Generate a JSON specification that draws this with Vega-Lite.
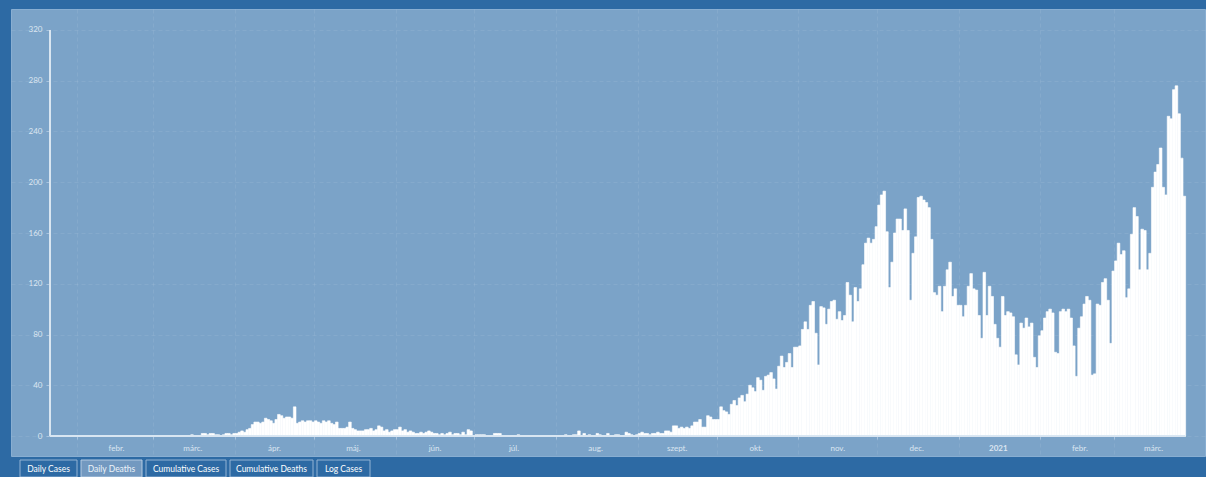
{
"$schema": "https://vega.github.io/schema/vega-lite/v6.json",
"background": "#2d6aa4",
"padding": {"left": 10, "top": 8, "right": 2, "bottom": 3},
"config": {"view": {"stroke": null}, "font": "Lato", "concat": {"spacing": 2}},
"datasets": {
"tabs": [{"tab":"Daily Cases"},{"tab":"Daily Deaths"},{"tab":"Cumulative Cases"},{"tab":"Cumulative Deaths"},{"tab":"Log Cases"}],
"deaths": [
{"date":"2020-01-22","deaths":0},{"date":"2020-01-23","deaths":0},{"date":"2020-01-24","deaths":0},{"date":"2020-01-25","deaths":0},{"date":"2020-01-26","deaths":0},{"date":"2020-01-27","deaths":0},{"date":"2020-01-28","deaths":0},{"date":"2020-01-29","deaths":0},{"date":"2020-01-30","deaths":0},{"date":"2020-01-31","deaths":0},
{"date":"2020-02-01","deaths":0},{"date":"2020-02-02","deaths":0},{"date":"2020-02-03","deaths":0},{"date":"2020-02-04","deaths":0},{"date":"2020-02-05","deaths":0},{"date":"2020-02-06","deaths":0},{"date":"2020-02-07","deaths":0},{"date":"2020-02-08","deaths":0},{"date":"2020-02-09","deaths":0},{"date":"2020-02-10","deaths":0},{"date":"2020-02-11","deaths":0},{"date":"2020-02-12","deaths":0},{"date":"2020-02-13","deaths":0},{"date":"2020-02-14","deaths":0},{"date":"2020-02-15","deaths":0},{"date":"2020-02-16","deaths":0},{"date":"2020-02-17","deaths":0},{"date":"2020-02-18","deaths":0},{"date":"2020-02-19","deaths":0},{"date":"2020-02-20","deaths":0},{"date":"2020-02-21","deaths":0},{"date":"2020-02-22","deaths":0},{"date":"2020-02-23","deaths":0},{"date":"2020-02-24","deaths":0},{"date":"2020-02-25","deaths":0},{"date":"2020-02-26","deaths":0},{"date":"2020-02-27","deaths":0},{"date":"2020-02-28","deaths":0},{"date":"2020-02-29","deaths":0},
{"date":"2020-03-01","deaths":0},{"date":"2020-03-02","deaths":0},{"date":"2020-03-03","deaths":0},{"date":"2020-03-04","deaths":0},{"date":"2020-03-05","deaths":0},{"date":"2020-03-06","deaths":0},{"date":"2020-03-07","deaths":0},{"date":"2020-03-08","deaths":0},{"date":"2020-03-09","deaths":0},{"date":"2020-03-10","deaths":0},{"date":"2020-03-11","deaths":0},{"date":"2020-03-12","deaths":0},{"date":"2020-03-13","deaths":0},{"date":"2020-03-14","deaths":0},{"date":"2020-03-15","deaths":1},{"date":"2020-03-16","deaths":0},{"date":"2020-03-17","deaths":0},{"date":"2020-03-18","deaths":0},{"date":"2020-03-19","deaths":2},{"date":"2020-03-20","deaths":2},{"date":"2020-03-21","deaths":1},{"date":"2020-03-22","deaths":2},{"date":"2020-03-23","deaths":2},{"date":"2020-03-24","deaths":1},{"date":"2020-03-25","deaths":1},{"date":"2020-03-26","deaths":0},{"date":"2020-03-27","deaths":1},{"date":"2020-03-28","deaths":2},{"date":"2020-03-29","deaths":2},{"date":"2020-03-30","deaths":1},{"date":"2020-03-31","deaths":2},
{"date":"2020-04-01","deaths":2},{"date":"2020-04-02","deaths":3},{"date":"2020-04-03","deaths":4},{"date":"2020-04-04","deaths":3},{"date":"2020-04-05","deaths":5},{"date":"2020-04-06","deaths":6},{"date":"2020-04-07","deaths":9},{"date":"2020-04-08","deaths":11},{"date":"2020-04-09","deaths":11},{"date":"2020-04-10","deaths":10},{"date":"2020-04-11","deaths":11},{"date":"2020-04-12","deaths":14},{"date":"2020-04-13","deaths":13},{"date":"2020-04-14","deaths":12},{"date":"2020-04-15","deaths":10},{"date":"2020-04-16","deaths":13},{"date":"2020-04-17","deaths":17},{"date":"2020-04-18","deaths":16},{"date":"2020-04-19","deaths":14},{"date":"2020-04-20","deaths":15},{"date":"2020-04-21","deaths":15},{"date":"2020-04-22","deaths":14},{"date":"2020-04-23","deaths":23},{"date":"2020-04-24","deaths":10},{"date":"2020-04-25","deaths":11},{"date":"2020-04-26","deaths":12},{"date":"2020-04-27","deaths":11},{"date":"2020-04-28","deaths":12},{"date":"2020-04-29","deaths":12},{"date":"2020-04-30","deaths":11},
{"date":"2020-05-01","deaths":12},{"date":"2020-05-02","deaths":11},{"date":"2020-05-03","deaths":10},{"date":"2020-05-04","deaths":12},{"date":"2020-05-05","deaths":11},{"date":"2020-05-06","deaths":12},{"date":"2020-05-07","deaths":10},{"date":"2020-05-08","deaths":9},{"date":"2020-05-09","deaths":11},{"date":"2020-05-10","deaths":6},{"date":"2020-05-11","deaths":6},{"date":"2020-05-12","deaths":6},{"date":"2020-05-13","deaths":7},{"date":"2020-05-14","deaths":11},{"date":"2020-05-15","deaths":6},{"date":"2020-05-16","deaths":5},{"date":"2020-05-17","deaths":4},{"date":"2020-05-18","deaths":4},{"date":"2020-05-19","deaths":4},{"date":"2020-05-20","deaths":5},{"date":"2020-05-21","deaths":5},{"date":"2020-05-22","deaths":6},{"date":"2020-05-23","deaths":4},{"date":"2020-05-24","deaths":5},{"date":"2020-05-25","deaths":8},{"date":"2020-05-26","deaths":7},{"date":"2020-05-27","deaths":4},{"date":"2020-05-28","deaths":5},{"date":"2020-05-29","deaths":3},{"date":"2020-05-30","deaths":4},{"date":"2020-05-31","deaths":5},
{"date":"2020-06-01","deaths":5},{"date":"2020-06-02","deaths":7},{"date":"2020-06-03","deaths":4},{"date":"2020-06-04","deaths":5},{"date":"2020-06-05","deaths":3},{"date":"2020-06-06","deaths":4},{"date":"2020-06-07","deaths":3},{"date":"2020-06-08","deaths":2},{"date":"2020-06-09","deaths":2},{"date":"2020-06-10","deaths":3},{"date":"2020-06-11","deaths":2},{"date":"2020-06-12","deaths":3},{"date":"2020-06-13","deaths":4},{"date":"2020-06-14","deaths":3},{"date":"2020-06-15","deaths":2},{"date":"2020-06-16","deaths":2},{"date":"2020-06-17","deaths":1},{"date":"2020-06-18","deaths":2},{"date":"2020-06-19","deaths":1},{"date":"2020-06-20","deaths":2},{"date":"2020-06-21","deaths":3},{"date":"2020-06-22","deaths":1},{"date":"2020-06-23","deaths":2},{"date":"2020-06-24","deaths":2},{"date":"2020-06-25","deaths":1},{"date":"2020-06-26","deaths":3},{"date":"2020-06-27","deaths":1},{"date":"2020-06-28","deaths":5},{"date":"2020-06-29","deaths":4},{"date":"2020-06-30","deaths":0},
{"date":"2020-07-01","deaths":1},{"date":"2020-07-02","deaths":1},{"date":"2020-07-03","deaths":1},{"date":"2020-07-04","deaths":1},{"date":"2020-07-05","deaths":0},{"date":"2020-07-06","deaths":0},{"date":"2020-07-07","deaths":0},{"date":"2020-07-08","deaths":2},{"date":"2020-07-09","deaths":2},{"date":"2020-07-10","deaths":2},{"date":"2020-07-11","deaths":0},{"date":"2020-07-12","deaths":0},{"date":"2020-07-13","deaths":0},{"date":"2020-07-14","deaths":0},{"date":"2020-07-15","deaths":0},{"date":"2020-07-16","deaths":0},{"date":"2020-07-17","deaths":1},{"date":"2020-07-18","deaths":0},{"date":"2020-07-19","deaths":0},{"date":"2020-07-20","deaths":0},{"date":"2020-07-21","deaths":0},{"date":"2020-07-22","deaths":0},{"date":"2020-07-23","deaths":0},{"date":"2020-07-24","deaths":0},{"date":"2020-07-25","deaths":0},{"date":"2020-07-26","deaths":0},{"date":"2020-07-27","deaths":0},{"date":"2020-07-28","deaths":0},{"date":"2020-07-29","deaths":0},{"date":"2020-07-30","deaths":0},{"date":"2020-07-31","deaths":0},
{"date":"2020-08-01","deaths":0},{"date":"2020-08-02","deaths":0},{"date":"2020-08-03","deaths":0},{"date":"2020-08-04","deaths":1},{"date":"2020-08-05","deaths":0},{"date":"2020-08-06","deaths":0},{"date":"2020-08-07","deaths":1},{"date":"2020-08-08","deaths":1},{"date":"2020-08-09","deaths":4},{"date":"2020-08-10","deaths":0},{"date":"2020-08-11","deaths":2},{"date":"2020-08-12","deaths":0},{"date":"2020-08-13","deaths":1},{"date":"2020-08-14","deaths":0},{"date":"2020-08-15","deaths":0},{"date":"2020-08-16","deaths":2},{"date":"2020-08-17","deaths":1},{"date":"2020-08-18","deaths":0},{"date":"2020-08-19","deaths":0},{"date":"2020-08-20","deaths":2},{"date":"2020-08-21","deaths":0},{"date":"2020-08-22","deaths":0},{"date":"2020-08-23","deaths":1},{"date":"2020-08-24","deaths":1},{"date":"2020-08-25","deaths":0},{"date":"2020-08-26","deaths":0},{"date":"2020-08-27","deaths":3},{"date":"2020-08-28","deaths":2},{"date":"2020-08-29","deaths":1},{"date":"2020-08-30","deaths":0},{"date":"2020-08-31","deaths":1},
{"date":"2020-09-01","deaths":2},{"date":"2020-09-02","deaths":3},{"date":"2020-09-03","deaths":2},{"date":"2020-09-04","deaths":2},{"date":"2020-09-05","deaths":1},{"date":"2020-09-06","deaths":2},{"date":"2020-09-07","deaths":2},{"date":"2020-09-08","deaths":3},{"date":"2020-09-09","deaths":2},{"date":"2020-09-10","deaths":2},{"date":"2020-09-11","deaths":4},{"date":"2020-09-12","deaths":4},{"date":"2020-09-13","deaths":3},{"date":"2020-09-14","deaths":8},{"date":"2020-09-15","deaths":8},{"date":"2020-09-16","deaths":6},{"date":"2020-09-17","deaths":7},{"date":"2020-09-18","deaths":6},{"date":"2020-09-19","deaths":7},{"date":"2020-09-20","deaths":6},{"date":"2020-09-21","deaths":8},{"date":"2020-09-22","deaths":11},{"date":"2020-09-23","deaths":11},{"date":"2020-09-24","deaths":13},{"date":"2020-09-25","deaths":7},{"date":"2020-09-26","deaths":7},{"date":"2020-09-27","deaths":16},{"date":"2020-09-28","deaths":15},{"date":"2020-09-29","deaths":13},{"date":"2020-09-30","deaths":13},
{"date":"2020-10-01","deaths":13},{"date":"2020-10-02","deaths":23},{"date":"2020-10-03","deaths":20},{"date":"2020-10-04","deaths":19},{"date":"2020-10-05","deaths":17},{"date":"2020-10-06","deaths":25},{"date":"2020-10-07","deaths":28},{"date":"2020-10-08","deaths":24},{"date":"2020-10-09","deaths":30},{"date":"2020-10-10","deaths":32},{"date":"2020-10-11","deaths":27},{"date":"2020-10-12","deaths":33},{"date":"2020-10-13","deaths":40},{"date":"2020-10-14","deaths":38},{"date":"2020-10-15","deaths":35},{"date":"2020-10-16","deaths":46},{"date":"2020-10-17","deaths":44},{"date":"2020-10-18","deaths":36},{"date":"2020-10-19","deaths":47},{"date":"2020-10-20","deaths":48},{"date":"2020-10-21","deaths":50},{"date":"2020-10-22","deaths":45},{"date":"2020-10-23","deaths":37},{"date":"2020-10-24","deaths":55},{"date":"2020-10-25","deaths":63},{"date":"2020-10-26","deaths":54},{"date":"2020-10-27","deaths":58},{"date":"2020-10-28","deaths":65},{"date":"2020-10-29","deaths":54},{"date":"2020-10-30","deaths":70},{"date":"2020-10-31","deaths":70},
{"date":"2020-11-01","deaths":71},{"date":"2020-11-02","deaths":84},{"date":"2020-11-03","deaths":90},{"date":"2020-11-04","deaths":84},{"date":"2020-11-05","deaths":103},{"date":"2020-11-06","deaths":106},{"date":"2020-11-07","deaths":81},{"date":"2020-11-08","deaths":56},{"date":"2020-11-09","deaths":102},{"date":"2020-11-10","deaths":101},{"date":"2020-11-11","deaths":88},{"date":"2020-11-12","deaths":100},{"date":"2020-11-13","deaths":106},{"date":"2020-11-14","deaths":107},{"date":"2020-11-15","deaths":92},{"date":"2020-11-16","deaths":98},{"date":"2020-11-17","deaths":91},{"date":"2020-11-18","deaths":95},{"date":"2020-11-19","deaths":121},{"date":"2020-11-20","deaths":111},{"date":"2020-11-21","deaths":90},{"date":"2020-11-22","deaths":117},{"date":"2020-11-23","deaths":106},{"date":"2020-11-24","deaths":116},{"date":"2020-11-25","deaths":135},{"date":"2020-11-26","deaths":152},{"date":"2020-11-27","deaths":156},{"date":"2020-11-28","deaths":152},{"date":"2020-11-29","deaths":155},{"date":"2020-11-30","deaths":165},
{"date":"2020-12-01","deaths":182},{"date":"2020-12-02","deaths":190},{"date":"2020-12-03","deaths":193},{"date":"2020-12-04","deaths":161},{"date":"2020-12-05","deaths":117},{"date":"2020-12-06","deaths":137},{"date":"2020-12-07","deaths":160},{"date":"2020-12-08","deaths":171},{"date":"2020-12-09","deaths":171},{"date":"2020-12-10","deaths":162},{"date":"2020-12-11","deaths":179},{"date":"2020-12-12","deaths":162},{"date":"2020-12-13","deaths":107},{"date":"2020-12-14","deaths":144},{"date":"2020-12-15","deaths":157},{"date":"2020-12-16","deaths":188},{"date":"2020-12-17","deaths":189},{"date":"2020-12-18","deaths":186},{"date":"2020-12-19","deaths":184},{"date":"2020-12-20","deaths":180},{"date":"2020-12-21","deaths":155},{"date":"2020-12-22","deaths":113},{"date":"2020-12-23","deaths":111},{"date":"2020-12-24","deaths":118},{"date":"2020-12-25","deaths":98},{"date":"2020-12-26","deaths":118},{"date":"2020-12-27","deaths":131},{"date":"2020-12-28","deaths":137},{"date":"2020-12-29","deaths":110},{"date":"2020-12-30","deaths":116},{"date":"2020-12-31","deaths":103},
{"date":"2021-01-01","deaths":103},{"date":"2021-01-02","deaths":94},{"date":"2021-01-03","deaths":103},{"date":"2021-01-04","deaths":118},{"date":"2021-01-05","deaths":128},{"date":"2021-01-06","deaths":116},{"date":"2021-01-07","deaths":115},{"date":"2021-01-08","deaths":95},{"date":"2021-01-09","deaths":77},{"date":"2021-01-10","deaths":129},{"date":"2021-01-11","deaths":95},{"date":"2021-01-12","deaths":118},{"date":"2021-01-13","deaths":110},{"date":"2021-01-14","deaths":88},{"date":"2021-01-15","deaths":77},{"date":"2021-01-16","deaths":70},{"date":"2021-01-17","deaths":110},{"date":"2021-01-18","deaths":95},{"date":"2021-01-19","deaths":98},{"date":"2021-01-20","deaths":97},{"date":"2021-01-21","deaths":94},{"date":"2021-01-22","deaths":64},{"date":"2021-01-23","deaths":56},{"date":"2021-01-24","deaths":89},{"date":"2021-01-25","deaths":85},{"date":"2021-01-26","deaths":93},{"date":"2021-01-27","deaths":86},{"date":"2021-01-28","deaths":89},{"date":"2021-01-29","deaths":62},{"date":"2021-01-30","deaths":54},{"date":"2021-01-31","deaths":79},
{"date":"2021-02-01","deaths":83},{"date":"2021-02-02","deaths":93},{"date":"2021-02-03","deaths":98},{"date":"2021-02-04","deaths":100},{"date":"2021-02-05","deaths":97},{"date":"2021-02-06","deaths":66},{"date":"2021-02-07","deaths":65},{"date":"2021-02-08","deaths":98},{"date":"2021-02-09","deaths":100},{"date":"2021-02-10","deaths":98},{"date":"2021-02-11","deaths":100},{"date":"2021-02-12","deaths":93},{"date":"2021-02-13","deaths":71},{"date":"2021-02-14","deaths":47},{"date":"2021-02-15","deaths":85},{"date":"2021-02-16","deaths":94},{"date":"2021-02-17","deaths":104},{"date":"2021-02-18","deaths":110},{"date":"2021-02-19","deaths":107},{"date":"2021-02-20","deaths":48},{"date":"2021-02-21","deaths":49},{"date":"2021-02-22","deaths":104},{"date":"2021-02-23","deaths":103},{"date":"2021-02-24","deaths":121},{"date":"2021-02-25","deaths":124},{"date":"2021-02-26","deaths":107},{"date":"2021-02-27","deaths":73},{"date":"2021-02-28","deaths":130},
{"date":"2021-03-01","deaths":138},{"date":"2021-03-02","deaths":152},{"date":"2021-03-03","deaths":143},{"date":"2021-03-04","deaths":146},{"date":"2021-03-05","deaths":109},{"date":"2021-03-06","deaths":116},{"date":"2021-03-07","deaths":159},{"date":"2021-03-08","deaths":180},{"date":"2021-03-09","deaths":173},{"date":"2021-03-10","deaths":131},{"date":"2021-03-11","deaths":163},{"date":"2021-03-12","deaths":162},{"date":"2021-03-13","deaths":131},{"date":"2021-03-14","deaths":144},{"date":"2021-03-15","deaths":196},{"date":"2021-03-16","deaths":208},{"date":"2021-03-17","deaths":214},{"date":"2021-03-18","deaths":227},{"date":"2021-03-19","deaths":196},{"date":"2021-03-20","deaths":190},{"date":"2021-03-21","deaths":252},{"date":"2021-03-22","deaths":250},{"date":"2021-03-23","deaths":273},{"date":"2021-03-24","deaths":276},{"date":"2021-03-25","deaths":254},{"date":"2021-03-26","deaths":219},{"date":"2021-03-27","deaths":189}
]
},
"vconcat": [
{
"width": 1194, "height": 447,
"view": {"fill": "#7ba3c8", "stroke": "#88aed2", "strokeWidth": 1},
"data": {"name": "deaths"},
"layer": [
{
"mark": {"type": "bar", "color": "#ffffff", "clip": true, "binSpacing": 0, "stroke": "#ffffff", "strokeWidth": 0.6},
"encoding": {
"x": {"field": "date", "type": "temporal", "timeUnit": "utcyearmonthdate", "title": null,
"scale": {"type": "utc", "domain": [{"year": 2020, "month": 1, "date": 6, "hours": 22, "utc": true}, {"year": 2021, "month": 4, "date": 4, "hours": 13, "utc": true}]},
"axis": {"offset": -20, "domain": false, "tickSize": 3, "tickColor": "#a9c4de", "labelColor": "#dbe6f1", "labelFontSize": 8, "labelPadding": 5, "labelOffset": 39, "labelFlush": false, "labelOverlap": false,
"grid": true, "gridColor": "#ffffff", "gridOpacity": 0.08, "gridDash": [4, 3],
"values": [{"year":2020,"month":2,"date":1,"utc":true},{"year":2020,"month":3,"date":1,"utc":true},{"year":2020,"month":4,"date":1,"utc":true},{"year":2020,"month":5,"date":1,"utc":true},{"year":2020,"month":6,"date":1,"utc":true},{"year":2020,"month":7,"date":1,"utc":true},{"year":2020,"month":8,"date":1,"utc":true},{"year":2020,"month":9,"date":1,"utc":true},{"year":2020,"month":10,"date":1,"utc":true},{"year":2020,"month":11,"date":1,"utc":true},{"year":2020,"month":12,"date":1,"utc":true},{"year":2021,"month":1,"date":1,"utc":true},{"year":2021,"month":2,"date":1,"utc":true},{"year":2021,"month":3,"date":1,"utc":true}],
"labelExpr": "utcmonth(datum.value) == 0 ? utcFormat(datum.value, '%Y') : ['jan.','febr.','márc.','ápr.','máj.','jún.','júl.','aug.','szept.','okt.','nov.','dec.'][utcmonth(datum.value)]",
"labelFontWeight": {"condition": {"test": "utcmonth(datum.value) == 0", "value": "bold"}, "value": "normal"}
}
},
"y": {"field": "deaths", "type": "quantitative", "title": null,
"scale": {"domain": [-15.76, 336.55], "nice": false, "zero": false},
"axis": {"offset": -39, "domain": false, "values": [0,20,40,60,80,100,120,140,160,180,200,220,240,260,280,300,320], "tickSize": 4, "tickColor": "#a9c4de", "labelColor": "#dbe6f1", "labelFontSize": 8, "labelPadding": 4,
"grid": true, "gridColor": "#ffffff", "gridOpacity": 0.08, "gridDash": [4, 3]}
},
"y2": {"datum": 0}
}
},
{
"mark": {"type": "rule", "color": "#d9e6f2", "strokeWidth": 1},
"encoding": {
"x": {"datum": {"year": 2020, "month": 1, "date": 21, "hours": 18, "utc": true}, "type": "temporal"},
"y": {"datum": 0, "type": "quantitative"},
"y2": {"datum": 320}
}
},
{
"mark": {"type": "rule", "color": "#d9e6f2", "strokeWidth": 1},
"encoding": {
"x": {"datum": {"year": 2020, "month": 1, "date": 21, "hours": 18, "utc": true}, "type": "temporal"},
"x2": {"datum": {"year": 2021, "month": 3, "date": 28, "utc": true}},
"y": {"datum": 0, "type": "quantitative"}
}
}
]
},
{
"spacing": 2,
"hconcat": [
{"width": 66, "height": 17, "data": {"name": "tabs"}, "transform": [{"filter": "datum.tab === 'Daily Cases'"}],
"encoding": {"x": {"field": "tab", "type": "nominal", "title": null, "axis": null, "scale": {"paddingInner": 0, "paddingOuter": 0.079, "align": 1}}},
"layer": [
{"mark": {"type": "rect", "stroke": "#93b3d4", "strokeWidth": 1, "fill": "#2d6aa4"}, "encoding": {}},
{"mark": {"type": "text", "color": "#ffffff", "fontSize": 8.5, "font": "Lato", "baseline": "middle"}, "encoding": {"text": {"field": "tab", "type": "nominal"}}}
]},
{"width": 61, "height": 17, "data": {"name": "tabs"}, "transform": [{"filter": "datum.tab === 'Daily Deaths'"}],
"layer": [
{"mark": {"type": "rect", "stroke": "#b5cbe2", "strokeWidth": 1, "fill": "#7399c0"}, "encoding": {}},
{"mark": {"type": "text", "color": "#eef4fa", "fontSize": 8.5, "font": "Lato", "baseline": "middle"}, "encoding": {"text": {"field": "tab", "type": "nominal"}}}
]},
{"width": 80, "height": 17, "data": {"name": "tabs"}, "transform": [{"filter": "datum.tab === 'Cumulative Cases'"}],
"layer": [
{"mark": {"type": "rect", "stroke": "#93b3d4", "strokeWidth": 1, "fill": "#2d6aa4"}, "encoding": {}},
{"mark": {"type": "text", "color": "#ffffff", "fontSize": 8.5, "font": "Lato", "baseline": "middle"}, "encoding": {"text": {"field": "tab", "type": "nominal"}}}
]},
{"width": 83, "height": 17, "data": {"name": "tabs"}, "transform": [{"filter": "datum.tab === 'Cumulative Deaths'"}],
"layer": [
{"mark": {"type": "rect", "stroke": "#93b3d4", "strokeWidth": 1, "fill": "#2d6aa4"}, "encoding": {}},
{"mark": {"type": "text", "color": "#ffffff", "fontSize": 8.5, "font": "Lato", "baseline": "middle"}, "encoding": {"text": {"field": "tab", "type": "nominal"}}}
]},
{"width": 53, "height": 17, "data": {"name": "tabs"}, "transform": [{"filter": "datum.tab === 'Log Cases'"}],
"layer": [
{"mark": {"type": "rect", "stroke": "#93b3d4", "strokeWidth": 1, "fill": "#2d6aa4"}, "encoding": {}},
{"mark": {"type": "text", "color": "#ffffff", "fontSize": 8.5, "font": "Lato", "baseline": "middle"}, "encoding": {"text": {"field": "tab", "type": "nominal"}}}
]}
]
}
]
}
